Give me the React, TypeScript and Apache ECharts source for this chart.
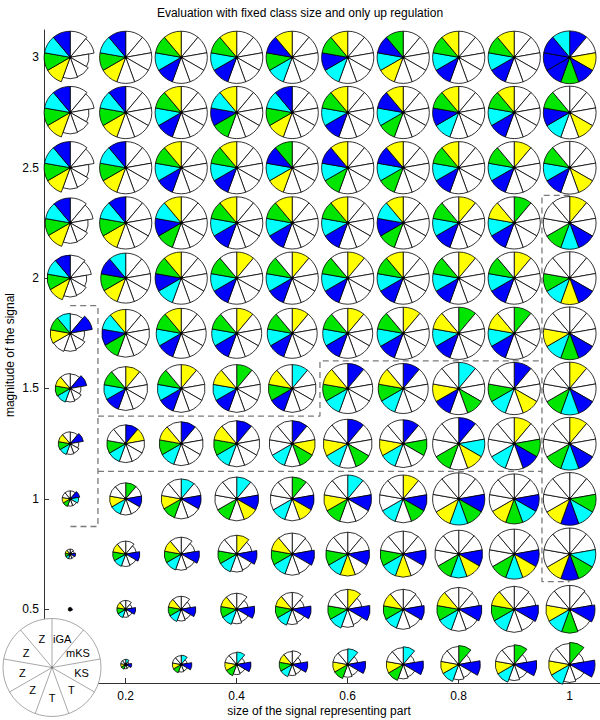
import React, { useEffect, useRef } from "react";
import * as echarts from "echarts";

// ---- data ----
const xValues = [0.1, 0.2, 0.3, 0.4, 0.5, 0.6, 0.7, 0.8, 0.9, 1.0];
const yValues = [3, 2.75, 2.5, 2.25, 2, 1.75, 1.5, 1.25, 1, 0.75, 0.5, 0.25];
const xTicks = [0.2, 0.4, 0.6, 0.8, 1];
const yTicks = [0.5, 1, 1.5, 2, 2.5, 3];
const sectorLabels = ["iGA", "mKS", "KS", "T", "T", "Z", "Z", "Z", "Z"];

const titleText = "Evaluation with fixed class size and only up regulation";
const xName = "size of the signal representing part";
const yName = "magnitude of the signal";

// sector colours, clockwise from 12 o'clock (sector order = sectorLabels)
const pieColors: string[][] = [
  ["WWWWWYGCB", "WWWWWYGCB", "WWWWWBCGY", "WWWWWBCGY", "WWWWWCGBY", "WWWWWCBGY", "WWWWWYCBG", "WWWWWBCGY", "WWWWWBCGY", "BWYBGBBBC"],
  ["WWWWWYGCB", "WWWWWYGCB", "WWWWWBCGY", "WWWWWGBCY", "WWWWWYGCB", "WWWWWBCGY", "WWWWWGCBY", "WWWWWCBGY", "WWWWWBCGY", "WWWYWCBGW"],
  ["WWWWWYGCB", "WWWWWYGCB", "WWWWWBCGY", "WWWWWBCGY", "WWWWWYCBG", "WWWWWGCBY", "WWWWWGCBY", "WWWWWBCGY", "YWWWWBCGW", "WWWYWBCGW"],
  ["WWWWWYGCB", "WWWWWYGCB", "WWWWWGBCY", "WWWWWBCGY", "WWWWWBCGY", "WWWWWBCGY", "WWWWWGBCY", "YWWWWBCGW", "GWWWWBCYW", "YWWBCGWWW"],
  ["WWWWWYGCB", "WWWWWYGBC", "WWWWWCBGY", "YWWWWBCGW", "YWWWWBCGW", "YWWWWBCGW", "WWWWWBCGY", "YWWWWBCGW", "YWWWWBCGW", "WWWBYCGWW"],
  ["WBWWWWYGC", "WWWWWGBCY", "WWWWWBCGY", "YWWWWBCGW", "YWWWWBCGW", "YWWWWBCGW", "YWWWWBCGW", "GWWWWBCYW", "GWWWWBCYW", "WWWBGCYWW"],
  ["WBWWWCGYW", "YWWWWBCGW", "YWWWWBCGW", "GWWWWBCYW", "CWWWWBGYW", "BWWWWCGYW", "BWWWWCGYW", "CWWGWBYWW", "BWWYWCGWW", "YWWBCGWWW"],
  ["WBWWWCGYW", "BYWWWCGWW", "BWWWWCGYW", "BWWWWCGYW", "BWYGWCWWW", "BWWGWCYWW", "BWGWWCYWW", "BWCYWGWWW", "YWGBWCWWW", "YWWBCGWWW"],
  ["WBCWWGYWW", "GWBWWCYWW", "CWBWWGYWW", "CWBYWGWWW", "GWBYWCWWW", "CWBWWGYWW", "YWBGWCWWW", "WWBGCYWWW", "WWBCGYWWW", "WWGCBYWWW"],
  ["WWBWWCGYW", "WWBWWCGYW", "WWBWWCGYW", "YWBWWCGWW", "WWBWWCGYW", "WWBWYCGWW", "WWBWYCGWW", "WWBYCGWWW", "WWBYCGWWW", "WWCGBYWWW"],
  ["WWBWWCGYW", "WWBWWCGYW", "WWBWWCGYW", "WWBWWCGYW", "WWBWWCGYW", "YWBWWCGWW", "WWBWWCGYW", "WWBWWCGYW", "WWBWWCGYW", "WWBWGCYWW"],
  ["", "CWBWWGYWW", "CWBWWGYWW", "CWBWWGYWW", "WWBWWCGYW", "CWBWWGYWW", "CWBWWGYWW", "GWBWWCYWW", "GWBWWCYWW", "GWBWWCYWW"],
];

// pie radius, as a fraction of half the column spacing
const pieSizes: number[][] = [
  [0.94, 0.94, 0.94, 0.94, 0.94, 0.94, 0.94, 0.94, 0.94, 0.95],
  [0.94, 0.94, 0.94, 0.94, 0.94, 0.94, 0.94, 0.94, 0.94, 0.95],
  [0.94, 0.94, 0.94, 0.94, 0.94, 0.94, 0.94, 0.94, 0.94, 0.95],
  [0.9, 0.94, 0.94, 0.94, 0.94, 0.94, 0.94, 0.94, 0.94, 0.95],
  [0.83, 0.9, 0.94, 0.94, 0.94, 0.94, 0.94, 0.94, 0.94, 0.95],
  [0.72, 0.86, 0.9, 0.9, 0.9, 0.9, 0.94, 0.94, 0.94, 0.95],
  [0.54, 0.79, 0.86, 0.86, 0.86, 0.9, 0.9, 0.94, 0.94, 0.95],
  [0.43, 0.68, 0.79, 0.83, 0.83, 0.88, 0.86, 0.94, 0.94, 0.95],
  [0.29, 0.58, 0.72, 0.79, 0.79, 0.86, 0.86, 0.94, 0.9, 0.95],
  [0.18, 0.47, 0.61, 0.68, 0.76, 0.79, 0.83, 0.86, 0.9, 0.94],
  [0.07, 0.32, 0.47, 0.58, 0.61, 0.72, 0.72, 0.79, 0.83, 0.86],
  [0, 0.18, 0.32, 0.43, 0.47, 0.54, 0.61, 0.65, 0.68, 0.76],
];

// which per-sector radius profile each pie has
const pieShapes: string[] = [
  "aFFFFFFFFF",
  "aFFFFFFFFF",
  "aFFFFFFFFF",
  "aFFFFFFFFF",
  "aFFFFFFFFF",
  "bFFFFFFFFF",
  "bFFFFFFFFF",
  "bFFFFFFFFF",
  "gFFFFFFFFF",
  "eeeemFFFFF",
  "ccccccmmmm",
  "-ddddddddd",
];

const profileF = [1, 1, 1, 1, 1, 1, 1, 1, 1];
const profileA = [1, 0.93, 0.72, 0.8, 0.82, 1, 1, 1, 1];
const profileB = [0.97, 1.12, 0.72, 0.85, 0.9, 0.97, 1, 1, 1];
const profileG = [1, 1.2, 1.05, 0.9, 0.9, 1, 1, 1, 1];
const profileE = [1, 0.82, 1.08, 0.9, 0.95, 1, 1, 1, 1];
const profileM = [1, 0.95, 1.06, 0.97, 1, 1, 1, 1, 1];
const profileC = [1, 0.72, 1.12, 0.82, 0.9, 1, 1, 1, 1];
const profileD = [1.05, 0.68, 1.2, 0.78, 0.85, 1, 1, 1, 1];

// dashed region boundaries (data coordinates)
const dashA = [[0.1, 1.875], [0.15, 1.875], [0.15, 0.875], [0.1, 0.875]];
const dashB = [[0.15, 1.375], [0.55, 1.375], [0.55, 1.625], [0.95, 1.625]];
const dashC = [[0.15, 1.125], [0.95, 1.125]];
const dashD = [[1.0, 2.375], [0.95, 2.375], [0.95, 0.625], [1.0, 0.625]];

// ---- styles ----
const colorMap: Record<string, string> = {
  W: "#ffffff",
  B: "#0000ff",
  C: "#00ffff",
  G: "#00e600",
  Y: "#ffff00",
};
const profiles: Record<string, number[]> = {
  F: profileF, a: profileA, b: profileB, g: profileG, e: profileE, m: profileM, c: profileC, d: profileD,
};
const FONT = "'Liberation Sans', Arial, Helvetica, sans-serif";

type Pie = { x: number; y: number; size: number; colors: string; profile: number[] };
const pies: Pie[] = [];
yValues.forEach((yv, r) => {
  xValues.forEach((xv, c) => {
    const colors = pieColors[r][c];
    const key = pieShapes[r][c];
    if (!colors || key === "-") return;
    pies.push({ x: xv, y: yv, size: pieSizes[r][c], colors, profile: profiles[key] });
  });
});

function buildLegend() {
  const cx = 52, cy = 667.5, R = 49, lr = 30;
  const els: any[] = [
    { type: "circle", z: 100, shape: { cx, cy, r: R }, style: { fill: "#fff", stroke: "#a8a8a8", lineWidth: 1 } },
  ];
  sectorLabels.forEach((lab, i) => {
    const a = (-90 + 40 * i) * Math.PI / 180;
    els.push({
      type: "line", z: 101,
      shape: { x1: cx, y1: cy, x2: cx + R * Math.cos(a), y2: cy + R * Math.sin(a) },
      style: { stroke: "#a8a8a8", lineWidth: 1 },
    });
    const m = a + 20 * Math.PI / 180;
    els.push({
      type: "text", z: 102,
      x: cx + lr * Math.cos(m), y: cy + lr * Math.sin(m),
      style: { text: lab, fontSize: 11, fontFamily: FONT, fill: "#000", align: "center", verticalAlign: "middle" },
    });
  });
  els.push({ type: "circle", z: 103, shape: { cx, cy, r: 1.2 }, style: { fill: "#777" } });
  return els;
}

export default function App() {
  const ref = useRef<HTMLDivElement>(null);
  useEffect(() => {
    if (!ref.current) return;
    const chart = echarts.init(ref.current, undefined, { renderer: "svg" });
    const dashStyle = { color: "#7a7a7a", width: 1.3, type: [6, 4] as any };
    const dashSeries = [dashA, dashB, dashC, dashD].map((d) => ({
      type: "line" as const,
      data: d,
      symbol: "none",
      silent: true,
      z: 1,
      lineStyle: dashStyle,
    }));
    const step = (2 * Math.PI) / 9;
    chart.setOption({
      animation: false,
      grid: { left: 44, right: 0, top: 30, bottom: 37, containLabel: false },
      xAxis: {
        type: "value",
        min: 0.05279,
        max: 1.05459,
        axisLine: { show: true, onZero: false, lineStyle: { color: "#333", width: 1 } },
        axisTick: { show: true, inside: true, length: 5, customValues: xTicks, lineStyle: { color: "#333" } },
        axisLabel: { customValues: xTicks, formatter: (v: number) => String(v), color: "#000", fontSize: 12, fontFamily: FONT, margin: 7 },
        splitLine: { show: false },
      },
      yAxis: {
        type: "value",
        min: 0.1662,
        max: 3.1236,
        axisLine: { show: true, onZero: false, lineStyle: { color: "#333", width: 1 } },
        axisTick: { show: true, inside: true, length: 5, customValues: yTicks, lineStyle: { color: "#333" } },
        axisLabel: { customValues: yTicks, formatter: (v: number) => String(v), color: "#000", fontSize: 12, fontFamily: FONT, margin: 5 },
        splitLine: { show: false },
      },
      series: [
        ...dashSeries,
        {
          type: "custom",
          z: 5,
          clip: false,
          silent: true,
          data: pies.map((p) => [p.x, p.y]),
          encode: { x: 0, y: 1 },
          renderItem: (params: any, api: any) => {
            const p = pies[params.dataIndex];
            const c = api.coord([api.value(0), api.value(1)]);
            const unit = api.size([0.05, 0])[0];
            const R = unit * p.size;
            const children: any[] = [];
            for (let i = 0; i < 9; i++) {
              const s = -Math.PI / 2 + i * step;
              children.push({
                type: "sector",
                shape: { cx: c[0], cy: c[1], r0: 0, r: R * p.profile[i], startAngle: s, endAngle: s + step, clockwise: true },
                style: { fill: colorMap[p.colors[i]], stroke: "#000", lineWidth: 0.8 },
              });
            }
            children.push({ type: "circle", shape: { cx: c[0], cy: c[1], r: 1.6 }, style: { fill: "#000" } });
            return { type: "group", children };
          },
        },
      ],
      graphic: [
        { type: "text", left: "center", x: 0, z: 50, style: { text: titleText, x: 323, y: 13, fontSize: 12, fontFamily: FONT, fill: "#000", align: "center", verticalAlign: "middle" } },
        { type: "text", z: 50, x: 319, y: 711, style: { text: xName, fontSize: 12, fontFamily: FONT, fill: "#000", align: "center", verticalAlign: "middle" } },
        { type: "text", z: 50, x: 10, y: 355, rotation: Math.PI / 2, style: { text: yName, fontSize: 12, fontFamily: FONT, fill: "#000", align: "center", verticalAlign: "middle" } },
        ...buildLegend(),
      ],
    });
    return () => chart.dispose();
  }, []);
  return <div ref={ref} style={{ position: "fixed", left: 0, top: 0, width: 600, height: 720, background: "#fff" }} />;
}
